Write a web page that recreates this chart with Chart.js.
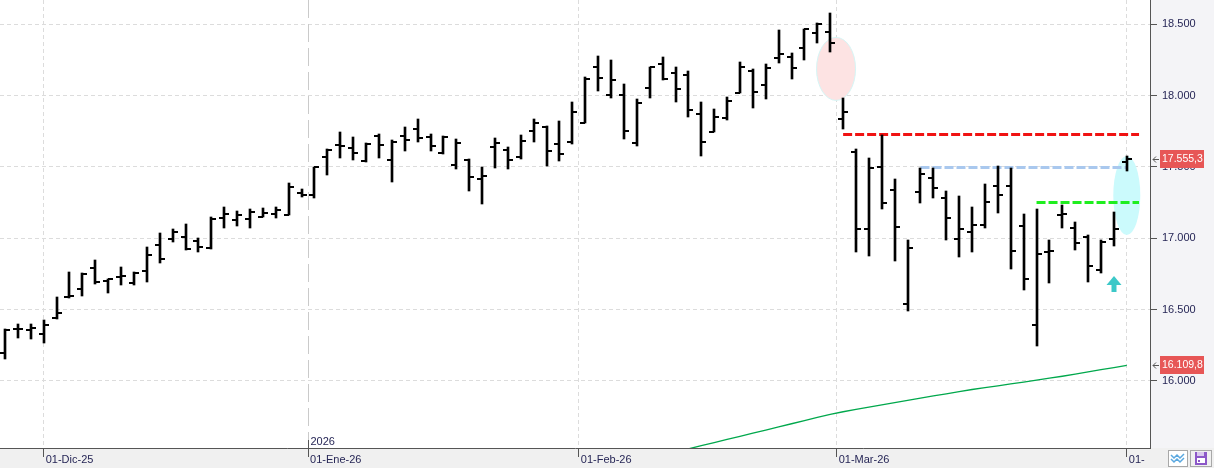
<!DOCTYPE html>
<html>
<head>
<meta charset="utf-8">
<script src="https://cdn.jsdelivr.net/npm/chart.js@4.4.1/dist/chart.umd.min.js"></script>
<style>
  html, body { margin: 0; padding: 0; background: #fff; }
  #wrap { width: 1214px; height: 468px; }
</style>
</head>
<body>
<div id="wrap"><canvas id="priceChart" width="1214" height="468"></canvas></div>
<script>
// Daily OHLC, 26-Nov-25 .. 01-Apr-26 (one entry per trading day)
const opens = [
  16198, 16364, 16360, 16329, 16443, 16585, 16642, 16792, 16699, 16730,
  16689, 16769, 16955, 16993, 17007, 16981, 16934, 17140, 17126, 17133,
  17147, 17170, 17165, 17315, 17301, 17568, 17652, 17631, 17540, 17717,
  17549, 17719, 17764, 17708, 17598, 17516, 17551, 17418, 17642, 17621,
  17568, 17750, 17782, 17661, 17673, 17806, 18199, 18007, 18007, 17666,
  18051, 18222, 18159, 18142, 17869, 17747, 17841, 18021, 18173, 18072,
  18262, 18269, 18332, 18437, 18444, 17836, 17603, 17063, 17498, 17339,
  16540, 17322, 17421, 17280, 16993, 17042, 17091, 17364, 17364, 17084,
  16390, 16905, 17163, 17072, 17011, 16776, 16993, 17533
];
const highs = [
  16362, 16397, 16397, 16427, 16586, 16762, 16754, 16848, 16717, 16797,
  16764, 16941, 17035, 17067, 17100, 17000, 17147, 17217, 17189, 17203,
  17210, 17217, 17385, 17346, 17502, 17626, 17743, 17708, 17666, 17729,
  17689, 17778, 17834, 17731, 17715, 17694, 17554, 17498, 17703, 17642,
  17722, 17834, 17787, 17822, 17955, 18128, 18278, 18250, 18079, 17974,
  18201, 18269, 18199, 18173, 17953, 17906, 17990, 18236, 18185, 18222,
  18460, 18301, 18465, 18507, 18577, 17985, 17624, 17561, 17724, 17414,
  16988, 17491, 17491, 17332, 17297, 17219, 17381, 17507, 17491, 17170,
  17203, 16986, 17233, 17114, 17021, 16986, 17182, 17575
];
const lows = [
  16152, 16303, 16296, 16264, 16432, 16579, 16598, 16677, 16619, 16675,
  16675, 16696, 16829, 16976, 16918, 16906, 16927, 17074, 17088, 17074,
  17147, 17140, 17163, 17287, 17280, 17444, 17565, 17549, 17533, 17565,
  17397, 17614, 17677, 17614, 17591, 17484, 17334, 17243, 17491, 17484,
  17558, 17673, 17507, 17544, 17659, 17806, 18035, 17981, 17694, 17649,
  17985, 18110, 17957, 17852, 17579, 17743, 17831, 18018, 17911, 17978,
  18227, 18119, 18250, 18371, 18308, 17768, 16906, 16878, 17203, 16843,
  16493, 17250, 17285, 16986, 16871, 16906, 17075, 17180, 16787, 16640,
  16245, 16689, 17075, 16920, 16696, 16759, 16948, 17474
];
const closes = [
  16355, 16364, 16368, 16392, 16474, 16592, 16750, 16691, 16715, 16733,
  16759, 16881, 16853, 17044, 16923, 16937, 17135, 17170, 17161, 17184,
  17179, 17198, 17357, 17306, 17498, 17619, 17645, 17600, 17663, 17652,
  17673, 17687, 17701, 17645, 17712, 17666, 17428, 17439, 17668, 17549,
  17682, 17810, 17612, 17589, 17883, 18114, 18121, 18107, 17750, 17946,
  18199, 18119, 18044, 17899, 17673, 17848, 17962, 18199, 18025, 18192,
  18292, 18192, 18465, 18502, 18367, 17883, 17063, 17491, 17245, 17077,
  16930, 17451, 17351, 17140, 17063, 17091, 17252, 17301, 16909, 16713,
  16888, 16912, 17168, 16965, 16808, 16976, 17065, 17555.3
];

// long moving average (green), starting at bar 50
const maStart = 50;
const maValues = [
  15445, 15472, 15500, 15524, 15546, 15568, 15590, 15612, 15634, 15656,
  15678, 15700, 15722, 15744, 15766, 15784, 15800, 15816, 15832, 15848,
  15864, 15880, 15895, 15910, 15925, 15940, 15953, 15966, 15979, 15992,
  16005, 16019, 16033, 16048, 16063, 16079, 16094, 16109.8
];

// month marks on the bar index axis
const monthTickPos = [3, 23.5, 44.5, 64.5, 87];
const monthLabels = ['01-Dic-25', '01-Ene-26', '01-Feb-26', '01-Mar-26', '01-'];

// price axis
const yMajor = [16000, 16500, 17000, 17500, 18000, 18500];
const yLabels = ['16.000', '16.500', '17.000', '17.500', '18.000', '18.500'];
const yMinorPerStep = 6;

// drawn levels
const redLevel = 17733, blueLevel = 17502, greenLevel = 17252;
const tagValues = [17555.3, 16109.8];
const tagLabels = ['17.555,3', '16.109,8'];

const TXT = '#262656';
const FONT = 'Liberation Sans, Arial, sans-serif';

function tickImage(side) {
  const c = document.createElement('canvas');
  c.width = 10; c.height = 2;
  const g = c.getContext('2d');
  g.fillStyle = '#000';
  g.fillRect(side === 'left' ? 0 : 5, 0, 5, 2);
  return c;
}
const openImg = tickImage('left');
const closeImg = tickImage('right');

function isMajor(v) {
  return yMajor.some(m => Math.abs(m - v) < 0.01);
}

// no label padding around the plot: the plot fills the canvas up to the axes
function noPad(s) {
  s.paddingTop = 0; s.paddingBottom = 0; s.paddingLeft = 0; s.paddingRight = 0;
}

const decor = {
  id: 'decor',
  beforeDraw(chart) {
    const { ctx, chartArea: a, width, height } = chart;
    ctx.save();
    ctx.fillStyle = '#ffffff';
    ctx.fillRect(0, 0, width, height);
    ctx.fillStyle = '#f4f4f7';
    ctx.fillRect(a.right, 0, width - a.right, a.bottom);
    ctx.fillStyle = '#f0f0f0';
    ctx.fillRect(0, a.bottom, width, height - a.bottom);
    ctx.restore();
  },
  beforeDatasetsDraw(chart) {
    const { ctx, chartArea: a, scales: { x, y } } = chart;

    // snap OHLC marks to whole pixels so they stay crisp
    [1, 2, 3].forEach(di => {
      chart.getDatasetMeta(di).data.forEach(el => {
        el.x = Math.round(el.x);
        el.y = Math.round(el.y);
        if (el.base !== undefined) el.base = Math.round(el.base);
      });
    });

    ctx.save();
    // year separator
    const xj = Math.round(x.getPixelForValue(monthTickPos[1])) + 0.5;
    ctx.strokeStyle = '#cacaca';
    ctx.lineWidth = 1;
    ctx.setLineDash([18, 6]);
    ctx.beginPath();
    ctx.moveTo(xj, a.top);
    ctx.lineTo(xj, a.bottom);
    ctx.stroke();
    ctx.setLineDash([]);

    // highlight ellipses
    ctx.fillStyle = '#fde3e3';
    ctx.strokeStyle = '#d6f6f6';
    ctx.beginPath();
    ctx.ellipse(x.getPixelForValue(64.45), y.getPixelForValue(18187), 19.5, 31.5, 0, 0, Math.PI * 2);
    ctx.fill();
    ctx.stroke();
    ctx.fillStyle = '#cbfafc';
    ctx.beginPath();
    ctx.ellipse(x.getPixelForValue(87), y.getPixelForValue(17300), 13.5, 39.5, 0, 0, Math.PI * 2);
    ctx.fill();

    // dashed levels
    ctx.lineWidth = 3;
    ctx.setLineDash([9, 3]);
    [[redLevel, 65, 87.95, '#f01212'], [blueLevel, 71, 87, '#a9c8ee'], [greenLevel, 80, 87.95, '#1fee1f']]
      .forEach(([v, i0, i1, col]) => {
        const py = Math.round(y.getPixelForValue(v)) + 0.5;
        ctx.strokeStyle = col;
        ctx.beginPath();
        ctx.moveTo(x.getPixelForValue(i0), py);
        ctx.lineTo(x.getPixelForValue(i1), py);
        ctx.stroke();
      });
    ctx.restore();
  },
  afterDatasetsDraw(chart) {
    const { ctx, scales: { x, y } } = chart;
    // up arrow
    const xa = Math.round(x.getPixelForValue(86));
    const yt = Math.round(y.getPixelForValue(16735));
    ctx.save();
    ctx.fillStyle = '#3cc8c8';
    ctx.beginPath();
    ctx.moveTo(xa, yt);
    ctx.lineTo(xa - 7.5, yt + 9);
    ctx.lineTo(xa + 7.5, yt + 9);
    ctx.closePath();
    ctx.fill();
    ctx.fillRect(xa - 2.5, yt + 9, 5, 7);
    ctx.restore();
  },
  afterDraw(chart) {
    const { ctx, chartArea: a, scales: { x, y } } = chart;
    ctx.save();
    // minor ticks on price axis
    ctx.strokeStyle = '#555';
    ctx.lineWidth = 1;
    y.ticks.forEach(t => {
      if (isMajor(t.value)) return;
      const py = Math.round(y.getPixelForValue(t.value)) + 0.5;
      ctx.beginPath();
      ctx.moveTo(a.right, py);
      ctx.lineTo(a.right + 4, py);
      ctx.stroke();
    });

    // year mark
    const xj = Math.round(x.getPixelForValue(monthTickPos[1])) + 0.5;
    ctx.strokeStyle = '#555';
    ctx.beginPath();
    ctx.moveTo(xj, a.bottom - 8);
    ctx.lineTo(xj, a.bottom);
    ctx.stroke();
    ctx.fillStyle = TXT;
    ctx.font = '11px ' + FONT;
    ctx.textBaseline = 'alphabetic';
    ctx.fillText('2026', xj + 2, a.bottom - 3);

    // last price tags
    ctx.font = '10.5px ' + FONT;
    tagValues.forEach((v, i) => {
      const py = Math.round(y.getPixelForValue(v));
      ctx.fillStyle = '#e75656';
      ctx.fillRect(a.right + 10, py - 9, 44, 18);
      ctx.fillStyle = '#ffffff';
      ctx.textBaseline = 'middle';
      ctx.fillText(tagLabels[i], a.right + 12, py + 0.5);
      ctx.strokeStyle = '#555';
      ctx.beginPath();
      ctx.moveTo(a.right + 3, py + 0.5);
      ctx.lineTo(a.right + 9, py + 0.5);
      ctx.moveTo(a.right + 6, py - 2.5);
      ctx.lineTo(a.right + 3, py + 0.5);
      ctx.lineTo(a.right + 6, py + 3.5);
      ctx.stroke();
    });

    // corner buttons
    ctx.fillStyle = '#ffffff';
    ctx.fillRect(1168, 450, 20, 17);
    ctx.strokeStyle = '#a8a8a8';
    ctx.strokeRect(1168.5, 450.5, 19, 16);
    ctx.strokeStyle = '#5aa8e0';
    ctx.lineWidth = 1.5;
    [0, 4].forEach(d => {
      ctx.beginPath();
      ctx.moveTo(1171, 455 + d);
      ctx.lineTo(1174, 458 + d);
      ctx.lineTo(1177, 455 + d);
      ctx.lineTo(1180, 458 + d);
      ctx.lineTo(1184, 454 + d);
      ctx.stroke();
    });
    ctx.lineWidth = 1;
    ctx.strokeStyle = '#a8a8a8';
    ctx.strokeRect(1190.5, 450.5, 21, 16);
    ctx.fillStyle = '#8c58c8';
    ctx.fillRect(1195, 452, 12, 13);
    ctx.fillStyle = '#ffffff';
    ctx.fillRect(1197, 458, 8, 5);
    ctx.fillStyle = '#8c58c8';
    ctx.fillRect(1198, 460, 2, 2);
    ctx.fillStyle = '#d9c8ee';
    ctx.fillRect(1197, 452, 7, 4);
    ctx.restore();
  }
};

const ctx = document.getElementById('priceChart').getContext('2d');
new Chart(ctx, {
  type: 'bar',
  data: {
    datasets: [
      {
        type: 'line',
        data: maValues.map((v, i) => ({ x: maStart + i, y: v })),
        borderColor: '#00a84c',
        borderWidth: 1.3,
        pointRadius: 0,
        tension: 0,
        order: 4
      },
      {
        type: 'bar',
        data: highs.map((h, i) => ({ x: i, y: [lows[i], h] })),
        backgroundColor: '#000000',
        borderWidth: 0,
        barThickness: 2,
        order: 3
      },
      {
        type: 'line',
        data: opens.map((v, i) => ({ x: i, y: v })),
        showLine: false,
        pointStyle: openImg,
        pointRadius: 3,
        pointHoverRadius: 3,
        order: 2
      },
      {
        type: 'line',
        data: closes.map((v, i) => ({ x: i, y: v })),
        showLine: false,
        pointStyle: closeImg,
        pointRadius: 3,
        pointHoverRadius: 3,
        order: 1
      }
    ]
  },
  options: {
    responsive: false,
    animation: false,
    devicePixelRatio: 1,
    layout: { padding: 0, autoPadding: false },
    plugins: { legend: { display: false }, tooltip: { enabled: false } },
    scales: {
      x: {
        type: 'linear',
        position: 'bottom',
        min: -0.39,
        max: 88.8,
        bounds: 'data',
        offset: false,
        afterBuildTicks: s => { s.ticks = monthTickPos.map(v => ({ value: v })); },
        afterFit: s => { s.height = 20; noPad(s); },
        ticks: {
          autoSkip: false,
          maxRotation: 0,
          align: 'start',
          labelOffset: 2,
          padding: -4,
          color: TXT,
          font: { family: FONT, size: 11 },
          callback: (v, i) => monthLabels[i]
        },
        grid: {
          offset: false,
          color: c => (c.index === 1 ? 'rgba(0,0,0,0)' : '#dcdcdc'),
          tickColor: '#555',
          tickLength: 9,
          lineWidth: 1
        },
        border: { color: '#555', width: 1, dash: [4, 3] }
      },
      y: {
        type: 'linear',
        position: 'right',
        min: 15530,
        max: 18670,
        bounds: 'data',
        afterBuildTicks: s => {
          const step = (yMajor[1] - yMajor[0]) / yMinorPerStep;
          const t = [];
          for (let k = -yMinorPerStep; k <= (yMajor.length) * yMinorPerStep; k++) {
            const v = yMajor[0] + k * step;
            if (v >= s.min && v <= s.max) t.push({ value: v });
          }
          s.ticks = t;
        },
        afterFit: s => { s.width = 64; noPad(s); },
        ticks: {
          autoSkip: false,
          padding: 5,
          color: TXT,
          font: { family: FONT, size: 11 },
          callback: v => {
            const i = yMajor.findIndex(m => Math.abs(m - v) < 0.01);
            return i < 0 ? null : yLabels[i];
          }
        },
        grid: {
          color: c => (isMajor(c.tick.value) ? '#dcdcdc' : 'rgba(0,0,0,0)'),
          tickColor: c => (isMajor(c.tick.value) ? '#555' : 'rgba(0,0,0,0)'),
          tickLength: 7,
          lineWidth: 1
        },
        border: { color: '#555', width: 1, dash: [4, 3] }
      }
    }
  },
  plugins: [decor]
});
</script>
</body>
</html>
